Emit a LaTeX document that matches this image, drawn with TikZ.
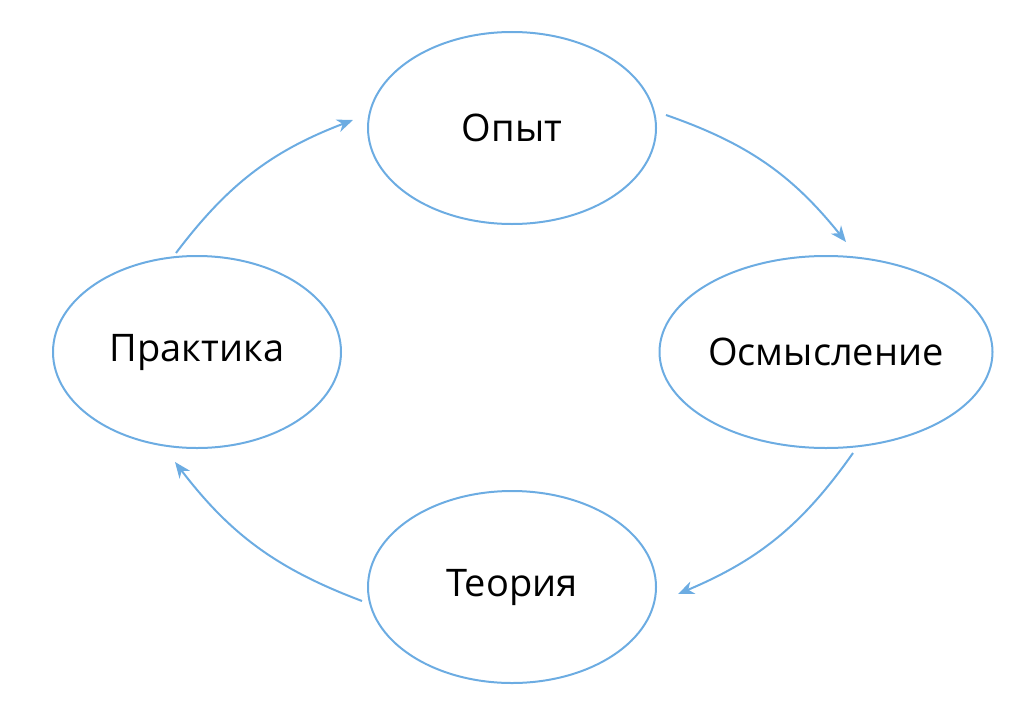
\documentclass[tikz,border=0pt]{standalone}
\usepackage{fontspec}
\setmainfont{Open Sans}
\usetikzlibrary{arrows.meta,shapes.geometric}
\definecolor{cb}{RGB}{108,172,226}
\begin{document}
\begin{tikzpicture}[x=1pt,y=-1pt,
  ell/.style={draw=cb,line width=2pt,ellipse,inner sep=0pt,minimum width=288pt,minimum height=192pt,font=\fontsize{38}{44}\selectfont},
  arr/.style={draw=cb,line width=2pt,-{Stealth[length=16pt,width=13pt,inset=5pt]}}]
\useasboundingbox (0,0) rectangle (1024,717);
\node[ell] (o) at (512,128) {Опыт};
\node[ell] (m) at (826,352) {Осмысление};
\node[ell] (t) at (512,587) {Теория};
\node[ell] (p) at (197,352) {Практика};
\coordinate (a1) at (666,115); \coordinate (a2) at (846,242);
\coordinate (b1) at (853,453); \coordinate (b2) at (678,594);
\coordinate (c1) at (362,601); \coordinate (c2) at (175,462);
\coordinate (d1) at (176,253); \coordinate (d2) at (353,120);
\draw[arr] (a1) to[bend left=16] (a2);
\draw[arr] (b1) to[bend left=16] (b2);
\draw[arr] (c1) to[bend left=16] (c2);
\draw[arr] (d1) to[bend left=16] (d2);
\end{tikzpicture}
\end{document}
